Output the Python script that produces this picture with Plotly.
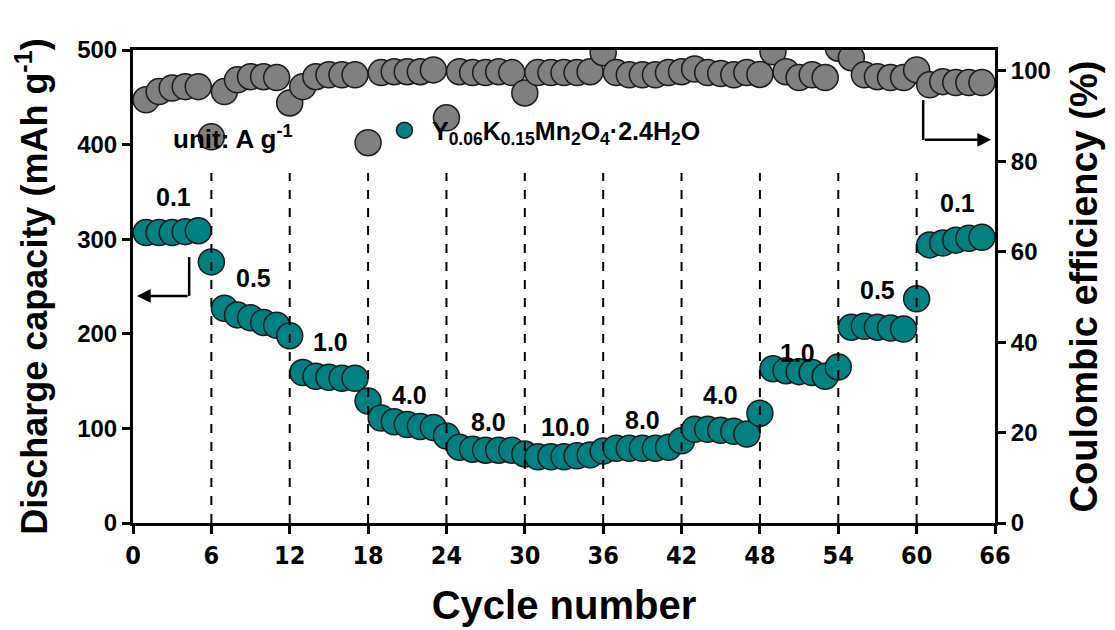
import plotly.graph_objects as go

# ---------------- data ----------------
cycles = list(range(1, 66))

capacity = [
    307, 307, 307, 308, 309, 276,
    227, 220, 217, 212, 209, 198,
    159, 155, 154, 153, 153, 129,
    111, 107, 104, 102, 101, 92,
    80, 78, 77, 77, 77, 73,
    70, 70, 70, 71, 72, 76,
    79, 79, 79, 79, 80, 87,
    99, 99, 98, 97, 94, 116,
    163, 161, 160, 159, 155, 165,
    207, 208, 207, 206, 205, 237,
    294, 296, 299, 301, 302,
]

coulombic = [
    93.6, 95.4, 96.2, 96.5, 96.5, 85.4,
    95.4, 98.0, 98.7, 98.7, 98.5, 92.9,
    96.5, 98.7, 99.1, 99.1, 99.1, 84.1,
    99.6, 99.8, 99.8, 99.8, 100.2, 89.6,
    99.8, 99.6, 99.6, 99.8, 99.6, 95.1,
    99.6, 99.6, 99.6, 99.6, 99.8, 104.0,
    99.6, 99.1, 99.1, 99.1, 99.6, 99.8,
    100.4, 99.6, 99.4, 99.1, 99.6, 99.2,
    104.2, 99.8, 98.5, 99.1, 98.5, 105.0,
    102.9, 99.1, 98.7, 98.5, 98.5, 100.2,
    96.9, 97.6, 97.4, 97.4, 97.4,
]

rate_boundaries = [6, 12, 18, 24, 30, 36, 42, 48, 54, 60]
rate_labels = ["0.1", "0.5", "1.0", "4.0", "8.0", "10.0", "8.0", "4.0", "1.0", "0.5", "0.1"]
rate_label_x = [3.1, 9.2, 15.1, 21.2, 27.2, 33.1, 39.0, 45.0, 50.9, 57.0, 63.1]
rate_label_y = [345, 259, 191, 135, 107, 101, 109, 135, 180, 246, 338]

x_ticks = list(range(0, 67, 6))
y_ticks = [0, 100, 200, 300, 400, 500]
y2_ticks = [0, 20, 40, 60, 80, 100]

series_name = "Y<sub>0.06</sub>K<sub>0.15</sub>Mn<sub>2</sub>O<sub>4</sub>·2.4H<sub>2</sub>O"

# ---------------- style ----------------
FONT = "Liberation Sans, Arial, sans-serif"
NARROW = "Liberation Sans Narrow, DejaVu Sans Condensed, Liberation Sans, Arial"
TEAL = "#008080"
GRAY = "#808080"

fig = go.Figure()

fig.add_trace(go.Scatter(
    x=cycles, y=coulombic, mode="markers", yaxis="y2", showlegend=False,
    marker=dict(size=26, color=GRAY, line=dict(color="#1a1a1a", width=1.5)),
    cliponaxis=True,
))
fig.add_trace(go.Scatter(
    x=cycles, y=capacity, mode="markers", name=series_name, showlegend=True,
    marker=dict(size=26, color=TEAL, line=dict(color="#1a1a1a", width=1.5)),
    cliponaxis=True,
))

# dashed boundaries between current densities
for b in rate_boundaries:
    fig.add_shape(type="line", xref="x", yref="y", x0=b, x1=b, y0=0, y1=370,
                  line=dict(color="black", width=2, dash="dash"), layer="above")

# rate labels
for t, lx, ly in zip(rate_labels, rate_label_x, rate_label_y):
    fig.add_annotation(x=lx, y=ly, xref="x", yref="y", text="<b>%s</b>" % t,
                       showarrow=False, font=dict(family=FONT, size=25, color="black"))

fig.add_annotation(x=2.9, y=408, xref="x", yref="y", xanchor="left",
                   text="<b>unit: A g<sup>-1</sup></b>", showarrow=False,
                   font=dict(family=FONT, size=26, color="black"))

# left arrow (capacity axis)
fig.add_shape(type="line", xref="x", yref="y", x0=4.3, x1=4.3, y0=281, y1=240,
              line=dict(color="black", width=2.5))
fig.add_annotation(x=0.3, y=240, ax=4.3, ay=240, xref="x", yref="y", axref="x", ayref="y",
                   text="", showarrow=True, arrowhead=2, arrowsize=1.1, arrowwidth=2.5,
                   arrowcolor="black")
# right arrow (coulombic efficiency axis)
fig.add_shape(type="line", xref="x", yref="y", x0=60.5, x1=60.5, y0=447, y1=405,
              line=dict(color="black", width=2.5))
fig.add_annotation(x=65.7, y=405, ax=60.5, ay=405, xref="x", yref="y", axref="x", ayref="y",
                   text="", showarrow=True, arrowhead=2, arrowsize=1.1, arrowwidth=2.5,
                   arrowcolor="black")

fig.update_layout(
    width=1107, height=622,
    margin=dict(l=125, r=120, t=42, b=107, autoexpand=False),
    paper_bgcolor="white", plot_bgcolor="white",
    font=dict(family=FONT, color="black"),
    legend=dict(x=0.283, y=0.83, xanchor="left", yanchor="middle",
                bgcolor="rgba(0,0,0,0)", borderwidth=0, itemwidth=45,
                font=dict(family=FONT, size=25, color="black", weight="bold")),
    xaxis=dict(
        range=[0, 66], tickvals=x_ticks, showgrid=False, zeroline=False,
        automargin=False,
        showline=True, linecolor="black", linewidth=3, mirror=True,
        ticks="outside", ticklen=8, tickwidth=2.5, tickcolor="black",
        tickfont=dict(family=NARROW, size=25, color="black", weight="bold"),
        title=dict(text="<b>Cycle number</b>", standoff=22,
                   font=dict(family=FONT, size=40, color="black")),
    ),
    yaxis=dict(
        range=[0, 500], tickvals=y_ticks, showgrid=False, zeroline=False,
        automargin=False,
        showline=True, linecolor="black", linewidth=3,
        ticks="outside", ticklen=8, tickwidth=2.5, tickcolor="black",
        tickfont=dict(family=FONT, size=24, color="black", weight="bold"),
        title=dict(text="<b>Discharge capacity (mAh g<sup>-1</sup>)</b>", standoff=19,
                   font=dict(family=FONT, size=36, color="black")),
    ),
    yaxis2=dict(
        range=[0, 104.6], tickvals=y2_ticks, overlaying="y", side="right",
        showgrid=False, zeroline=False, automargin=False,
        showline=True, linecolor="black", linewidth=3,
        ticks="outside", ticklen=8, tickwidth=2.5, tickcolor="black",
        tickfont=dict(family=FONT, size=24, color="black", weight="bold"),
        title=dict(text="<b>Coulombic efficiency (%)</b>", standoff=21,
                   font=dict(family=FONT, size=38, color="black")),
    ),
)

fig.write_html("out.html")
